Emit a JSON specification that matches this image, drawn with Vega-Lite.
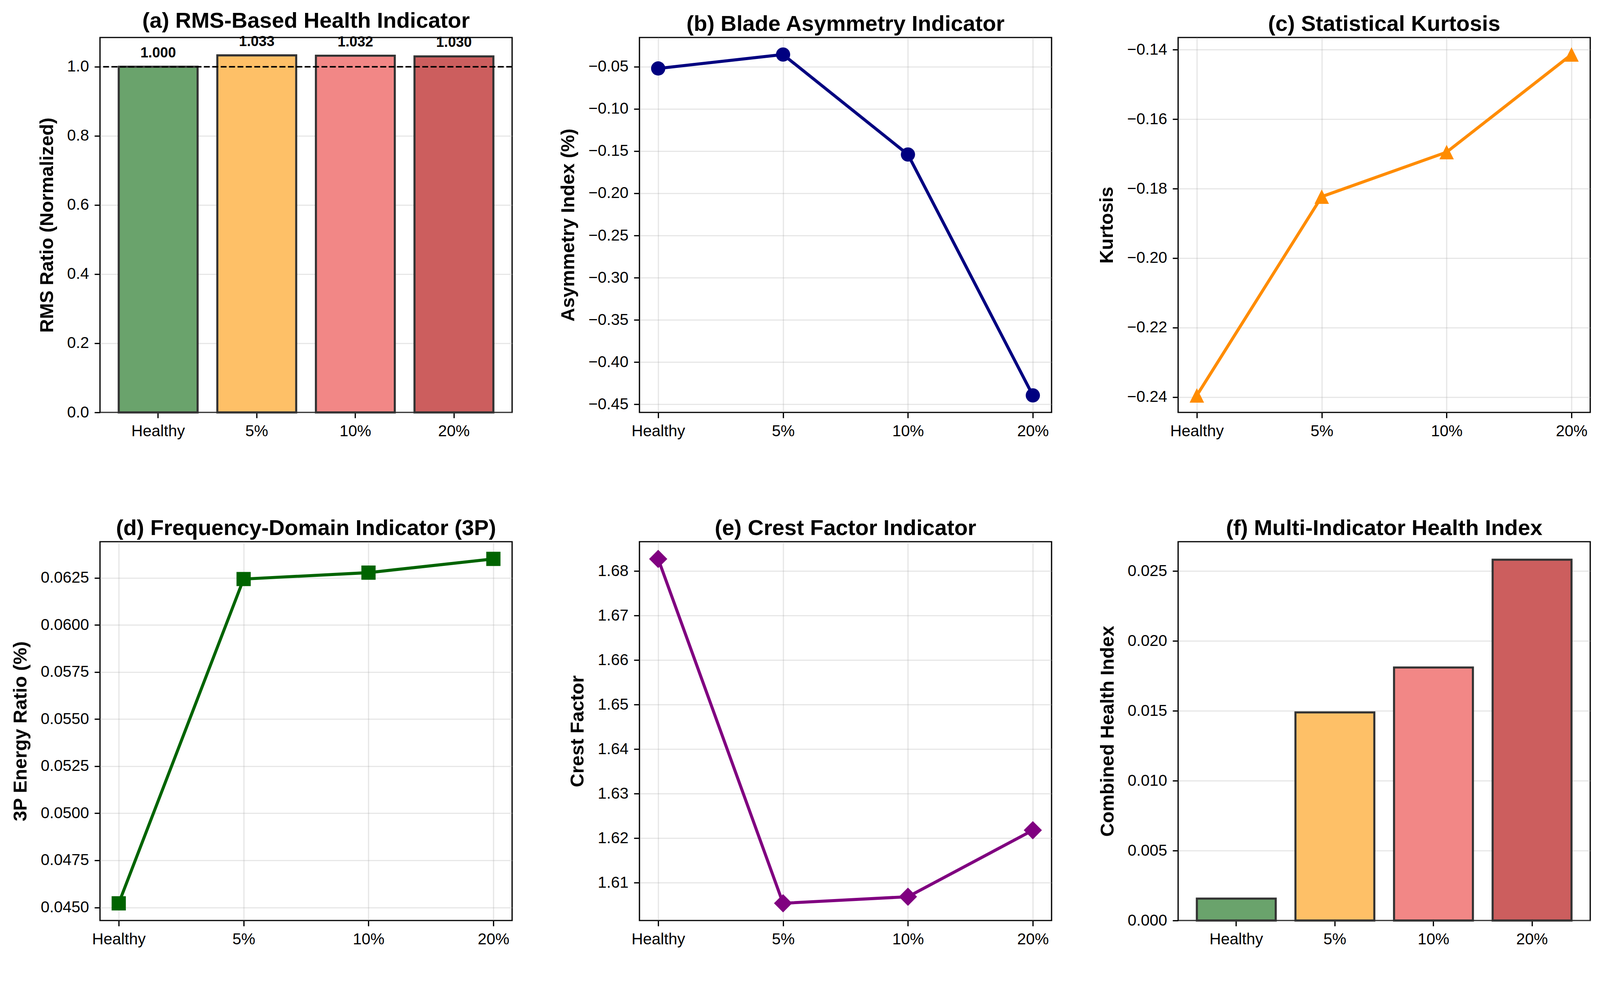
{
  "$schema": "https://vega.github.io/schema/vega-lite/v6.json",
  "background": "white",
  "autosize": {"type": "none"},
  "padding": {"left": 256, "top": 96, "right": 3952, "bottom": 2421},
  "datasets": {
    "ind": [
      {"level": "Healthy", "rms": 1.000, "asym": -0.052, "kurt": -0.2395, "p3": 0.04522, "crest": 1.68273, "chi": 0.00157},
      {"level": "5%", "rms": 1.033, "asym": -0.0355, "kurt": -0.1823, "p3": 0.06244, "crest": 1.6054, "chi": 0.01489},
      {"level": "10%", "rms": 1.032, "asym": -0.154, "kurt": -0.1695, "p3": 0.06278, "crest": 1.60687, "chi": 0.01810},
      {"level": "20%", "rms": 1.030, "asym": -0.4395, "kurt": -0.1414, "p3": 0.06351, "crest": 1.6218, "chi": 0.02581}
    ]
  },
  "columns": 3,
  "spacing": {"row": 196, "column": 114},
  "concat": [
    {
      "title": "(a) RMS-Based Health Indicator",
      "width": 1055, "height": 960,
      "data": {"name": "ind"},
      "layer": [
        {"mark": {"type": "bar", "stroke": "#333333", "strokeWidth": 5.3},
         "encoding": {
           "x": {"field": "level", "type": "nominal", "sort": null,
                 "scale": {"paddingInner": 0.2, "paddingOuter": 0.19},
                 "axis": {"title": null, "labelAngle": 0}},
           "y": {"field": "rms", "type": "quantitative",
                 "scale": {"domain": [0, 1.0847], "nice": false, "zero": false},
                 "axis": {"title": "RMS Ratio (Normalized)", "values": [0, 0.2, 0.4, 0.6, 0.8, 1.0], "format": ".1f"}},
           "color": {"field": "level", "type": "nominal", "sort": null,
             "scale": {"domain": ["Healthy", "5%", "10%", "20%"], "range": ["#6aa36c", "#fec067", "#f28786", "#cc5e5e"]},
             "legend": null}}},
        {"mark": {"type": "rule", "color": "#000000", "opacity": 0.55, "strokeWidth": 3.9, "strokeDash": [15, 6.5]},
         "encoding": {"y": {"datum": 1.0}}},
        {"mark": {"type": "text", "fontWeight": "bold", "fontSize": 36.4, "baseline": "alphabetic", "dy": -24, "color": "#000000"},
         "encoding": {
           "x": {"field": "level", "type": "nominal", "sort": null},
           "y": {"field": "rms", "type": "quantitative"},
           "text": {"field": "rms", "type": "quantitative", "format": ".3f"}}}
      ]
    },
    {
      "title": "(b) Blade Asymmetry Indicator",
      "width": 1055, "height": 960,
      "data": {"name": "ind"},
      "encoding": {
        "x": {"field": "level", "type": "ordinal", "sort": null,
              "scale": {"type": "point", "padding": 0.15},
              "axis": {"title": null, "labelAngle": 0, "grid": true}},
        "y": {"field": "asym", "type": "quantitative",
              "scale": {"domain": [-0.4597, -0.0153], "nice": false, "zero": false},
              "axis": {"title": "Asymmetry Index (%)", "values": [-0.05, -0.1, -0.15, -0.2, -0.25, -0.3, -0.35, -0.4, -0.45], "format": ".2f"}}
      },
      "layer": [
        {"mark": {"type": "line", "color": "#000080", "strokeWidth": 7.8}},
        {"mark": {"type": "point", "shape": "circle", "filled": true, "opacity": 1, "size": 1326, "color": "#000080"}}
      ]
    },
    {
      "title": "(c) Statistical Kurtosis",
      "width": 1055, "height": 960,
      "data": {"name": "ind"},
      "encoding": {
        "x": {"field": "level", "type": "ordinal", "sort": null,
              "scale": {"type": "point", "padding": 0.15},
              "axis": {"title": null, "labelAngle": 0, "grid": true}},
        "y": {"field": "kurt", "type": "quantitative",
              "scale": {"domain": [-0.2444, -0.1365], "nice": false, "zero": false},
              "axis": {"title": "Kurtosis", "values": [-0.14, -0.16, -0.18, -0.2, -0.22, -0.24], "format": ".2f"}}
      },
      "layer": [
        {"mark": {"type": "line", "color": "#ff8c00", "strokeWidth": 7.8}},
        {"mark": {"type": "point", "shape": "M0,-1L-1,1L1,1Z", "filled": true, "opacity": 1, "size": 1367, "color": "#ff8c00"}}
      ]
    },
    {
      "title": "(d) Frequency-Domain Indicator (3P)",
      "width": 1055, "height": 970,
      "data": {"name": "ind"},
      "encoding": {
        "x": {"field": "level", "type": "ordinal", "sort": null,
              "scale": {"type": "point", "padding": 0.15},
              "axis": {"title": null, "labelAngle": 0, "grid": true}},
        "y": {"field": "p3", "type": "quantitative",
              "scale": {"domain": [0.044306, 0.064424], "nice": false, "zero": false},
              "axis": {"title": "3P Energy Ratio (%)", "values": [0.045, 0.0475, 0.05, 0.0525, 0.055, 0.0575, 0.06, 0.0625], "format": ".4f"}}
      },
      "layer": [
        {"mark": {"type": "line", "color": "#006400", "strokeWidth": 7.8}},
        {"mark": {"type": "point", "shape": "square", "filled": true, "opacity": 1, "size": 1326, "color": "#006400"}}
      ]
    },
    {
      "title": "(e) Crest Factor Indicator",
      "width": 1055, "height": 970,
      "data": {"name": "ind"},
      "encoding": {
        "x": {"field": "level", "type": "ordinal", "sort": null,
              "scale": {"type": "point", "padding": 0.15},
              "axis": {"title": null, "labelAngle": 0, "grid": true}},
        "y": {"field": "crest", "type": "quantitative",
              "scale": {"domain": [1.60153, 1.6866], "nice": false, "zero": false},
              "axis": {"title": "Crest Factor", "values": [1.61, 1.62, 1.63, 1.64, 1.65, 1.66, 1.67, 1.68], "format": ".2f"}}
      },
      "layer": [
        {"mark": {"type": "line", "color": "#800080", "strokeWidth": 7.8}},
        {"mark": {"type": "point", "shape": "diamond", "filled": true, "opacity": 1, "size": 2169, "color": "#800080"}}
      ]
    },
    {
      "title": "(f) Multi-Indicator Health Index",
      "width": 1055, "height": 970,
      "data": {"name": "ind"},
      "mark": {"type": "bar", "stroke": "#333333", "strokeWidth": 5.3},
      "encoding": {
        "x": {"field": "level", "type": "nominal", "sort": null,
              "scale": {"paddingInner": 0.2, "paddingOuter": 0.19},
              "axis": {"title": null, "labelAngle": 0}},
        "y": {"field": "chi", "type": "quantitative",
              "scale": {"domain": [0, 0.0271], "nice": false, "zero": false},
              "axis": {"title": "Combined Health Index", "values": [0, 0.005, 0.01, 0.015, 0.02, 0.025], "format": ".3f"}},
        "color": {"field": "level", "type": "nominal", "sort": null,
          "scale": {"domain": ["Healthy", "5%", "10%", "20%"], "range": ["#6aa36c", "#fec067", "#f28786", "#cc5e5e"]},
          "legend": null}
      }
    }
  ],
  "config": {
    "font": "Liberation Sans",
    "view": {"stroke": "#000000", "strokeWidth": 3.2},
    "axis": {
      "domain": false,
      "labelFontSize": 40.5, "labelColor": "#000000",
      "tickColor": "#000000", "tickSize": 14.2, "tickWidth": 3.2, "labelPadding": 14.2,
      "gridColor": "#b0b0b0", "gridOpacity": 0.3, "gridWidth": 3.2,
      "titleFontSize": 48.6, "titleFontWeight": "bold", "titleColor": "#000000", "titlePadding": 26.2,
      "labelOverlap": false
    },
    "title": {"fontSize": 56.3, "fontWeight": "bold", "color": "#000000", "offset": 5, "baseline": "alphabetic", "anchor": "middle", "frame": "group"}
  }
}
